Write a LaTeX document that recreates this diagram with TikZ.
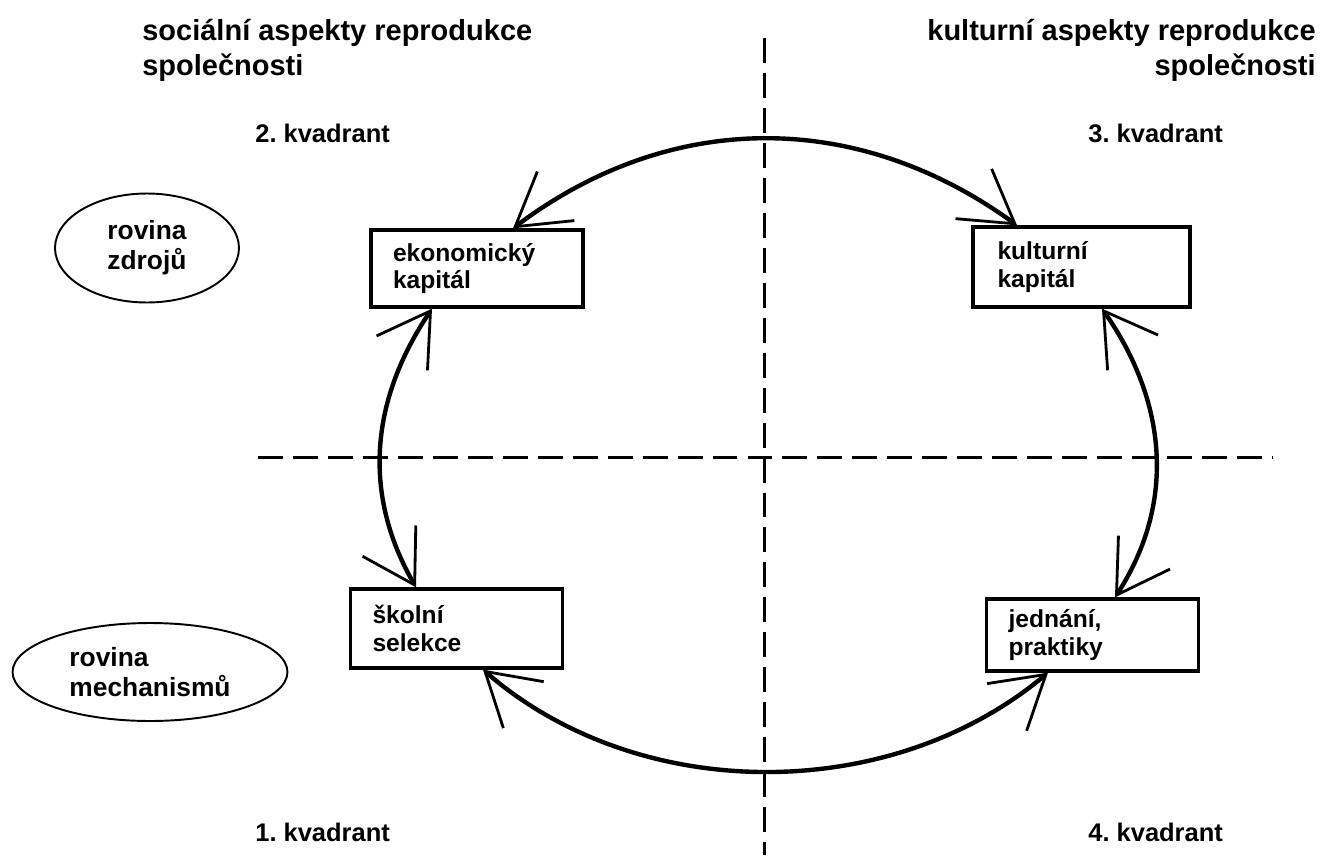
\documentclass[tikz,border=0pt]{standalone}
\usepackage{fontspec}
\setmainfont{Liberation Sans}
\usetikzlibrary{shapes,arrows.meta,calc}
\frenchspacing

\tikzset{
    kapbox/.style={draw, rectangle, line width=1.9pt, text width=3.36cm, inner xsep=0.44cm, inner ysep=0pt, align=left, font=\fontsize{14}{15.5}\selectfont\bfseries},
    rovina/.style={draw, ellipse, line width=1.1pt, inner sep=0pt, align=left, font=\fontsize{15}{17}\selectfont\bfseries},
    nadpis/.style={inner sep=0pt, font=\fontsize{16.5}{20}\selectfont\bfseries},
    kvadr/.style={inner sep=0pt, font=\fontsize{14.5}{16}\selectfont\bfseries},
    osa/.style={line width=1.7pt, dash pattern=on 14.2pt off 5.7pt},
    oblouk/.style={line width=2.5pt, >={Straight Barb[length=29pt,width=35pt,line width=1.6pt]}, <->}
}

\begin{document}
\begin{tikzpicture}[x=0.02cm,y=0.02cm]
    \useasboundingbox (0,0) rectangle (1327,-855);

    % Titles
    \node[nadpis, anchor=north west, align=left] (soc) at (142,-19) {sociální aspekty reprodukce\\společnosti};
    \node[nadpis, anchor=north east, align=right] (kul) at (1316,-19) {kulturní aspekty reprodukce\\společnosti};

    % Quadrant labels
    \node[kvadr, anchor=base west] (k2) at (255,-142) {2. kvadrant};
    \node[kvadr, anchor=base west] (k3) at (1088,-142) {3. kvadrant};
    \node[kvadr, anchor=base west] (k1) at (255,-841) {1. kvadrant};
    \node[kvadr, anchor=base west] (k4) at (1088,-841) {4. kvadrant};

    % Axes
    \draw[osa] (764,-38) -- (764,-855);
    \draw[osa] (258,-457) -- (1272,-457);

    % Levels
    \node[rovina, minimum width=3.68cm, minimum height=2.18cm] (zdroje) at (147,-248) {rovina\\zdrojů};
    \node[rovina, minimum width=5.5cm, minimum height=1.96cm] (mechanismy) at (150,-672) {rovina\\mechanismů};

    % Boxes
    \node[kapbox, minimum width=4.24cm, minimum height=1.54cm] (eko) at (477,-268.5) {ekonomický\\kapitál};
    \node[kapbox, minimum width=4.34cm, minimum height=1.6cm] (kult) at (1081.5,-267) {kulturní\\kapitál};
    \node[kapbox, minimum width=4.22cm, minimum height=1.58cm] (skol) at (456.5,-628.5) {školní\\selekce};
    \node[kapbox, minimum width=4.22cm, minimum height=1.44cm] (jedn) at (1092.5,-635) {jednání,\\praktiky};

    % Cycle
    \draw[oblouk] ($(eko.north)+(36,0)$) to[out=37,in=144] ($(kult.north)+(-64.5,0)$);
    \draw[oblouk] ($(kult.south)+(20.5,0)$) to[out=-55,in=57] ($(jedn.north)+(22.5,0)$);
    \draw[oblouk] ($(skol.south)+(26.5,0)$) to[out=-41,in=220,looseness=0.93] ($(jedn.south)+(-44.5,0)$);
    \draw[oblouk] ($(eko.south)+(-45,0)$) to[out=236,in=120] ($(skol.north)+(-40.5,0)$);
\end{tikzpicture}
\end{document}
